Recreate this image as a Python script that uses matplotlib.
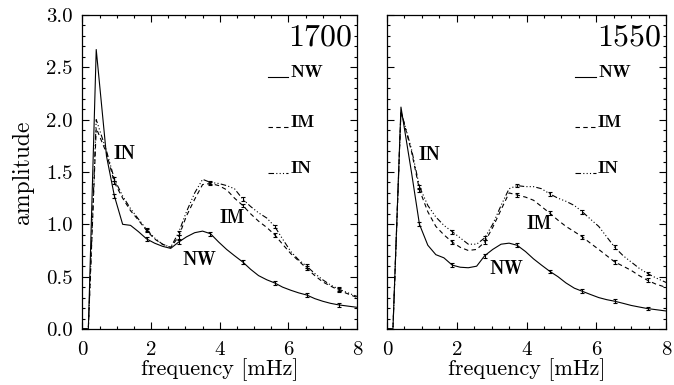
import matplotlib
matplotlib.use("Agg")
import matplotlib.pyplot as plt
from matplotlib.ticker import MultipleLocator, FormatStrFormatter, NullFormatter

plt.rcParams["font.family"] = ["cmr10", "DejaVu Serif"]
plt.rcParams["axes.unicode_minus"] = False
plt.rcParams["mathtext.fontset"] = "cm"

# frequency grid [mHz], shared by all curves
freq = [0.0, 0.17, 0.40, 0.70, 0.93, 1.17, 1.40, 1.63, 1.87, 2.10, 2.33, 2.57,
        2.80, 3.03, 3.27, 3.50, 3.73, 3.97, 4.20, 4.43, 4.67, 4.90, 5.13, 5.37,
        5.60, 5.83, 6.07, 6.30, 6.53, 6.77, 7.00, 7.23, 7.47, 7.70, 7.93, 8.17]

# 1700 panel
nw_1700 = [0, 0, 2.67, 1.65, 1.27, 1.00, 0.99, 0.93, 0.86, 0.82, 0.79, 0.77,
           0.83, 0.88, 0.92, 0.935, 0.91, 0.83, 0.76, 0.70, 0.64, 0.57, 0.51, 0.47,
           0.44, 0.40, 0.37, 0.345, 0.325, 0.29, 0.265, 0.245, 0.23, 0.22, 0.21, 0.20]
im_1700 = [0, 0, 1.92, 1.68, 1.40, 1.25, 1.13, 1.04, 0.94, 0.86, 0.81, 0.78,
           0.88, 1.08, 1.24, 1.38, 1.39, 1.37, 1.33, 1.25, 1.18, 1.10, 1.03, 0.97,
           0.90, 0.81, 0.72, 0.65, 0.58, 0.51, 0.45, 0.41, 0.37, 0.34, 0.31, 0.28]
in_1700 = [0, 0, 2.00, 1.70, 1.43, 1.27, 1.15, 1.05, 0.95, 0.87, 0.81, 0.78,
           0.92, 1.12, 1.30, 1.43, 1.40, 1.39, 1.37, 1.34, 1.24, 1.17, 1.11, 1.06,
           0.98, 0.86, 0.74, 0.66, 0.60, 0.53, 0.47, 0.42, 0.38, 0.35, 0.32, 0.29]

# 1550 panel
nw_1550 = [0, 0, 2.12, 1.50, 1.00, 0.80, 0.71, 0.68, 0.61, 0.59, 0.585, 0.60,
           0.70, 0.76, 0.81, 0.82, 0.80, 0.74, 0.67, 0.61, 0.55, 0.50, 0.44, 0.39,
           0.36, 0.33, 0.30, 0.28, 0.265, 0.245, 0.225, 0.21, 0.195, 0.185, 0.175, 0.165]
im_1550 = [0, 0, 2.08, 1.70, 1.33, 1.12, 0.98, 0.90, 0.83, 0.78, 0.75, 0.76,
           0.83, 0.97, 1.14, 1.30, 1.28, 1.26, 1.23, 1.17, 1.105, 1.04, 0.98, 0.93,
           0.88, 0.82, 0.76, 0.70, 0.64, 0.60, 0.56, 0.51, 0.465, 0.43, 0.405, 0.38]
in_1550 = [0, 0, 2.08, 1.72, 1.36, 1.18, 1.07, 0.99, 0.93, 0.87, 0.81, 0.81,
           0.87, 1.00, 1.18, 1.34, 1.37, 1.36, 1.36, 1.34, 1.29, 1.25, 1.22, 1.18,
           1.12, 1.05, 0.98, 0.88, 0.78, 0.70, 0.64, 0.58, 0.53, 0.49, 0.455, 0.42]

err = 0.018
panels = [("1700", nw_1700, im_1700, in_1700), ("1550", nw_1550, im_1550, in_1550)]
names = ["NW", "IM", "IN"]
styles = ["-", (0, (4, 3)), (0, (5, 2, 1, 2, 1, 2, 1, 2))]
# in-plot label spots (freq, amplitude) per panel
label_pos = {
    "1700": {"IN": (1.24, 1.67), "IM": (4.35, 1.06), "NW": (3.40, 0.66)},
    "1550": {"IN": (1.23, 1.66), "IM": (4.35, 1.00), "NW": (3.43, 0.57)},
}

fig = plt.figure(figsize=(6.74, 3.85), dpi=100)
ax1 = fig.add_axes([0.1224, 0.1455, 0.4073, 0.8156])
ax2 = fig.add_axes([0.5742, 0.1455, 0.4140, 0.8156])

for ax, (title, nw, im, inn) in zip([ax1, ax2], panels):
    for series, ls in zip([nw, im, inn], styles):
        ax.errorbar(freq, series, yerr=err, errorevery=(4, 4), color="black",
                    lw=0.8, ls=ls, elinewidth=0.8, capsize=1.5, capthick=0.8)
    ax.set_xlim(0, 8)
    ax.set_ylim(0, 3)
    ax.xaxis.set_major_locator(MultipleLocator(2))
    ax.xaxis.set_minor_locator(MultipleLocator(0.5))
    ax.yaxis.set_major_locator(MultipleLocator(0.5))
    ax.yaxis.set_minor_locator(MultipleLocator(0.1))
    ax.yaxis.set_major_formatter(FormatStrFormatter("%.1f"))
    ax.tick_params(which="both", direction="in", top=True, right=True,
                   labelsize=15, width=0.8)
    ax.tick_params(which="major", length=5, pad=7)
    ax.tick_params(axis="x", which="major", pad=9)
    ax.tick_params(which="minor", length=2.5)
    for sp in ax.spines.values():
        sp.set_linewidth(0.9)
    ax.set_xlabel("frequency [mHz]", fontsize=16, labelpad=-1)
    ax.text(7.85, 2.71, title, fontsize=23, ha="right", va="baseline")

    # key in upper right
    for name, ls, yk in zip(names, styles, [2.41, 1.93, 1.49]):
        ax.plot([5.40, 6.00], [yk, yk], color="black", lw=0.8, ls=ls)
        ax.text(6.05, yk, name, fontsize=13, family="cmb10", va="baseline")

    for name, (fx, ay) in label_pos[title].items():
        ax.text(fx, ay, name, fontsize=13.5, family="cmb10", ha="center", va="center")

ax1.set_ylabel("amplitude", fontsize=17, labelpad=9)
ax2.yaxis.set_major_formatter(NullFormatter())

fig.savefig("out.png", dpi=100)
